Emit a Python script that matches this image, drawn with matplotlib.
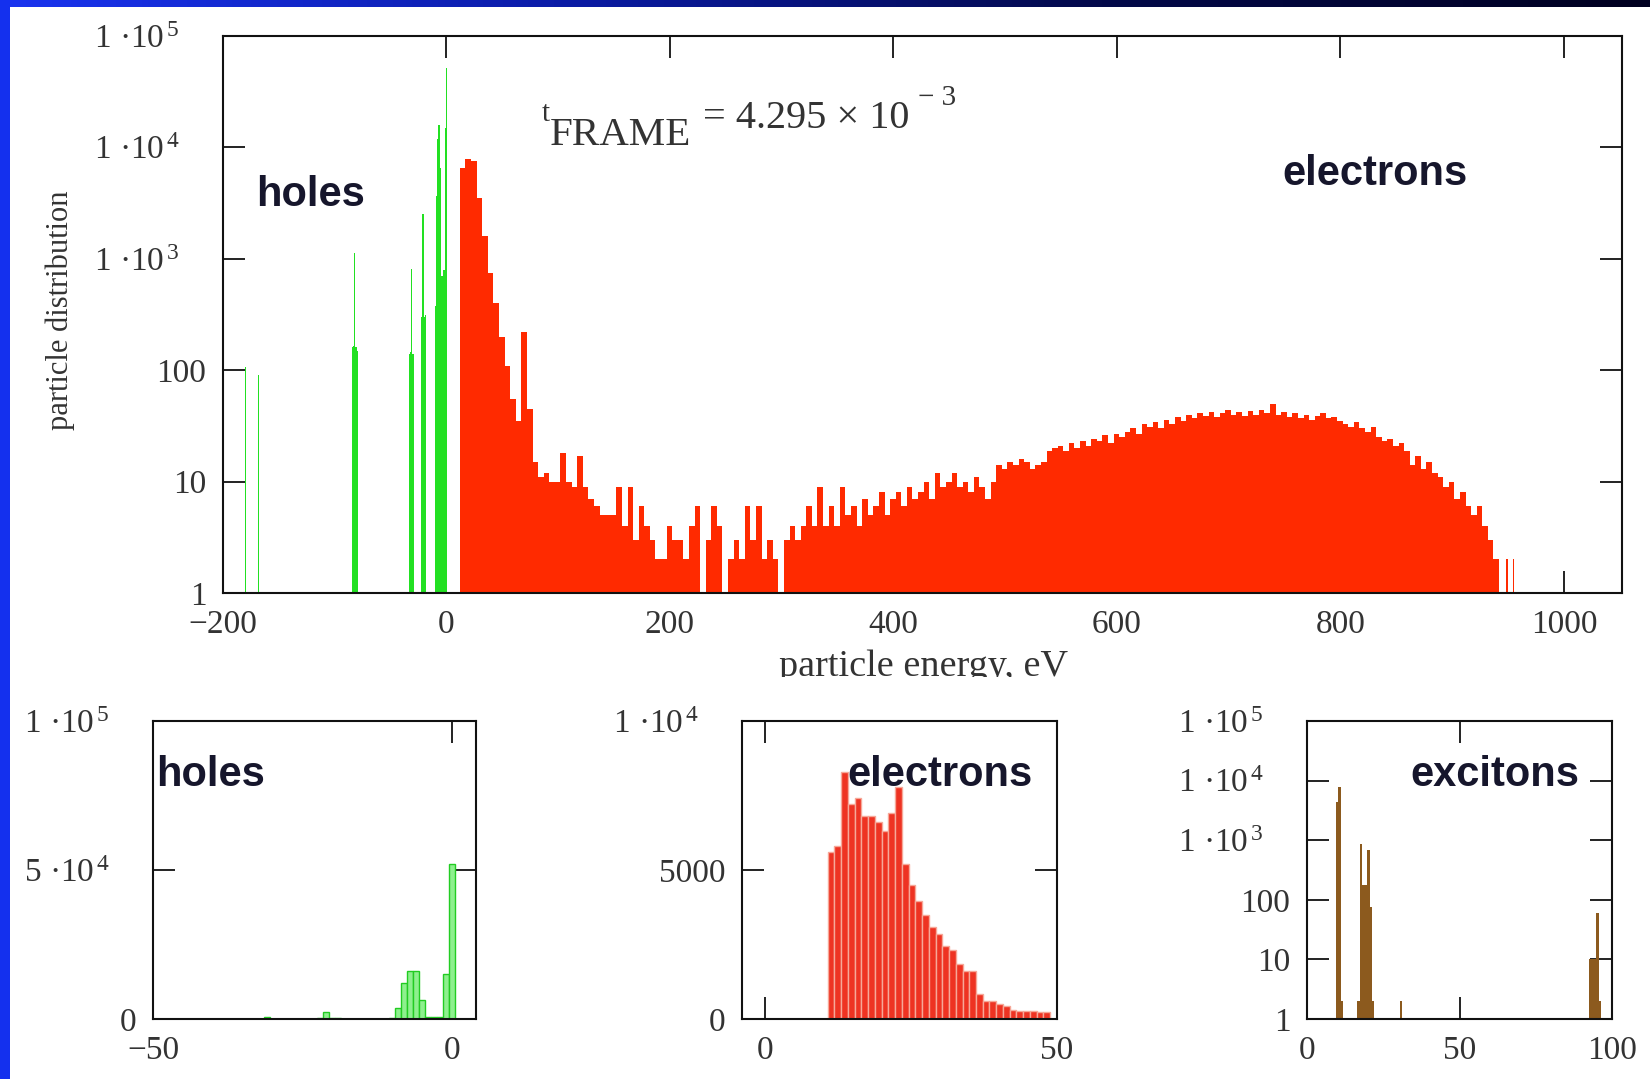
import numpy as np
import matplotlib
matplotlib.use("Agg")
import matplotlib.pyplot as plt
from matplotlib.patches import Rectangle
from matplotlib.transforms import Bbox, TransformedBbox
from matplotlib.colors import LinearSegmentedColormap

plt.rcParams['font.family'] = ['Liberation Serif', 'DejaVu Serif']
plt.rcParams['mathtext.fontset'] = 'custom'
plt.rcParams['mathtext.rm'] = 'Liberation Serif'
plt.rcParams['mathtext.it'] = 'Liberation Serif:italic'
plt.rcParams['mathtext.bf'] = 'Liberation Serif:bold'

# ---------------- data ----------------
# electron energy histogram (5 eV bins starting at 12 eV)
electron_bin_start = 12.0
electron_bin_width = 5.0
electron_counts = [
    6500, 7800, 7500, 3500, 1600, 750, 400, 200, 110, 55,
    35, 220, 45, 15, 11, 12, 10, 10, 18, 10,
    9, 17, 9, 7, 6, 5, 5, 5, 9, 4,
    9, 3, 6, 4, 3, 2, 2, 4, 3, 3,
    2, 4, 6, 1, 3, 6, 4, 1, 2, 3,
    2, 6, 3, 6, 2, 3, 2, 1, 3, 4,
    3, 4, 6, 4, 9, 4, 6, 4, 9, 5,
    6, 4, 7, 5, 6, 8, 5, 7, 8, 6,
    9, 7, 8, 10, 7, 12, 9, 10, 12, 9,
    10, 8, 11, 9, 7, 10, 14, 13, 15, 14,
    16, 15, 13, 14, 15, 19, 20, 21, 19, 22,
    20, 23, 21, 24, 23, 26, 22, 27, 25, 28,
    30, 27, 33, 31, 34, 30, 36, 33, 38, 35,
    40, 37, 41, 39, 42, 38, 41, 44, 40, 42,
    39, 43, 40, 44, 41, 50, 40, 42, 38, 41,
    37, 40, 36, 39, 41, 37, 38, 35, 33, 31,
    34, 30, 28, 31, 25, 23, 24, 21, 22, 19,
    14, 17, 13, 15, 12, 11, 9, 10, 7, 8,
    6, 5, 6, 4, 3, 2,
]
electron_tail_energy = [949, 955]
electron_tail_counts = [2, 2]

# hole energy histogram (1 eV bins, centres)
holes_energy = [-180, -168, -84, -83, -82, -81, -80,
                -33, -32, -31, -30, -22, -21, -20, -19,
                -10, -9, -8, -7, -6, -5, -4, -3, -2, -1, 0]
holes_counts = [107, 91, 160, 165, 1120, 160, 150,
                140, 145, 810, 140, 300, 2500, 300, 310,
                380, 3700, 12000, 16000, 16000, 6500, 700, 800, 800, 15000, 52000]

# low-energy electrons, fine bins
fine_bin_start = 10.7
fine_bin_width = 1.155
electron_fine_counts = [5600, 5800, 8300, 7200, 7400, 6800, 6800, 6600, 6300, 6900,
                        7800, 5200, 4500, 3950, 3500, 3100, 2850, 2450, 2300, 1850,
                        1600, 1600, 850, 620, 600, 500, 450, 300, 280, 280,
                        280, 230, 230]

# excitons (left bin edges, 0.8 eV bins)
exciton_width = 0.8
exciton_energy = [9.5, 10.3, 11.1, 16.5, 17.3, 18.1, 18.9, 19.7, 20.5, 21.3,
                  30.5, 92.5, 93.3, 94.1, 94.9, 95.7]
exciton_counts = [4400, 7900, 2, 2, 850, 180, 180, 680, 77, 2,
                  2, 10, 10, 10, 60, 2]

TRAIL = '    '
log_ticks = [1, 10, 100, 1e3, 1e4, 1e5]
log_labels = ['1', '10', '100', '1 ·10$^{\\,3}$' + TRAIL,
              '1 ·10$^{\\,4}$' + TRAIL, '1 ·10$^{\\,5}$' + TRAIL]

# ---------------- colours / styles ----------------
RED = '#ff2a00'
GREEN = '#22e022'
BROWN = '#8c5a1e'
TXT = '#16162c'
TICKC = '#333333'
FS = 24
BOLD_FS = 30

W, H = 1650, 1079
fig = plt.figure(figsize=(W / 100, H / 100), dpi=100)
fig.patch.set_facecolor('white')


def frac(x0, y0, x1, y1):
    return [x0 / W, 1 - y1 / H, (x1 - x0) / W, (y1 - y0) / H]


def style_axes(ax):
    for s in ax.spines.values():
        s.set_linewidth(1.5)
        s.set_color('#111111')
        s.set_zorder(5)
    ax.tick_params(which='both', direction='in', top=True, right=True,
                   length=16, width=1.3, color='#111111',
                   labelsize=FS, labelcolor=TICKC, pad=12)
    ax.set_facecolor('white')


def bold_label(x, y, s):
    fig.text(x / W, 1 - y / H, s, family='Liberation Sans', weight='bold',
             fontsize=BOLD_FS, color=TXT, ha='left', va='center', zorder=10)


# ---------------- main panel ----------------
ax = fig.add_axes(frac(223, 36, 1622, 593))
style_axes(ax)
ax.set_yscale('log')
ax.set_xlim(-200, 1052)
ax.set_ylim(1, 1e5)
ax.bar(electron_bin_start + electron_bin_width * np.arange(len(electron_counts)),
       np.array(electron_counts) - 1, bottom=1, width=electron_bin_width,
       align='edge', color=RED, linewidth=0, zorder=3)
ax.bar(electron_tail_energy, np.array(electron_tail_counts) - 1, bottom=1,
       width=1.2, color=RED, linewidth=0, zorder=3)
ax.bar(holes_energy, np.array(holes_counts) - 1, bottom=1, width=1.0,
       color=GREEN, linewidth=0, zorder=3)
ax.set_xticks([-200, 0, 200, 400, 600, 800, 1000],
              ['\u2212200', '0', '200', '400', '600', '800', '1000'])
ax.set_yticks(log_ticks, log_labels)
ax.minorticks_off()

bold_label(256, 195, 'holes')
bold_label(1282, 174, 'electrons')

# frame time annotation
fig.text(542 / W, 1 - 121 / H, 't', fontsize=21, color=TICKC, va='baseline')
fig.text(550 / W, 1 - 145 / H, 'FRAME', fontsize=29.5, color=TICKC, va='baseline')
fig.text(703 / W, 1 - 128 / H, '= 4.295 \u00d7 10', fontsize=29, color=TICKC, va='baseline')
fig.text(918 / W, 1 - 105 / H, '\u2212 3', fontsize=21, color=TICKC, va='baseline')

fig.text(60 / W, 1 - 310 / H, 'particle distribution', rotation=90, fontsize=22,
         color=TICKC, ha='center', va='center')
xl = fig.text(923 / W, 1 - 676 / H, 'particle energy, eV', fontsize=27.5,
              color=TICKC, ha='center', va='baseline')
xl.set_clip_box(TransformedBbox(Bbox([[0, 1 - 677 / H], [1, 1]]), fig.transFigure))
xl.set_clip_on(True)

# ---------------- holes, linear ----------------
ax1 = fig.add_axes(frac(153, 721, 476, 1019))
style_axes(ax1)
ax1.set_xlim(-50, 4)
ax1.set_ylim(0, 1e5)
ax1.bar(holes_energy, holes_counts, width=1.0, color='#8ef08e',
        edgecolor='#22cc22', linewidth=1.0, zorder=3)
ax1.set_xticks([-50, 0], ['\u221250', '0'])
ax1.set_yticks([0, 5e4, 1e5], ['0', '5 ·10$^{\\,4}$' + TRAIL, '1 ·10$^{\\,5}$' + TRAIL])
bold_label(156, 775, 'holes')

# ---------------- electrons, linear ----------------
ax2 = fig.add_axes(frac(742, 721, 1057, 1019))
style_axes(ax2)
ax2.set_xlim(-4, 50)
ax2.set_ylim(0, 1e4)
ax2.bar(fine_bin_start + fine_bin_width * np.arange(len(electron_fine_counts)),
        electron_fine_counts, width=fine_bin_width, align='edge', color='#ee3322',
        edgecolor='#f6a898', linewidth=1.0, zorder=3)
ax2.set_xticks([0, 50], ['0', '50'])
ax2.set_yticks([0, 5000, 1e4], ['0', '5000', '1 ·10$^{\\,4}$' + TRAIL])
bold_label(847, 775, 'electrons')

# ---------------- excitons, log ----------------
ax3 = fig.add_axes(frac(1307, 721, 1612, 1019))
style_axes(ax3)
ax3.set_yscale('log')
ax3.set_xlim(0, 100)
ax3.set_ylim(1, 1e5)
ax3.bar(exciton_energy, np.array(exciton_counts) - 1, bottom=1, width=exciton_width,
        align='edge', color=BROWN, linewidth=0, zorder=3)
ax3.set_xticks([0, 50, 100], ['0', '50', '100'])
ax3.set_yticks(log_ticks, log_labels)
ax3.minorticks_off()
bold_label(1410, 775, 'excitons')

# ---------------- slide frame ----------------
fig.patches.append(Rectangle((0, 0), 10 / W, 1, transform=fig.transFigure,
                             facecolor='#1430ee', edgecolor='none', zorder=0))
bar_ax = fig.add_axes([0, 1 - 7 / H, 1, 7 / H])
grad = np.linspace(0, 1, 256)[None, :]
cm = LinearSegmentedColormap.from_list('frame', ['#1a34f0', '#0b1ca8', '#03094a', '#000020'])
bar_ax.imshow(grad, aspect='auto', cmap=cm, extent=[0, 1, 0, 1])
bar_ax.axis('off')

fig.savefig('out.png', dpi=100, facecolor='white')
